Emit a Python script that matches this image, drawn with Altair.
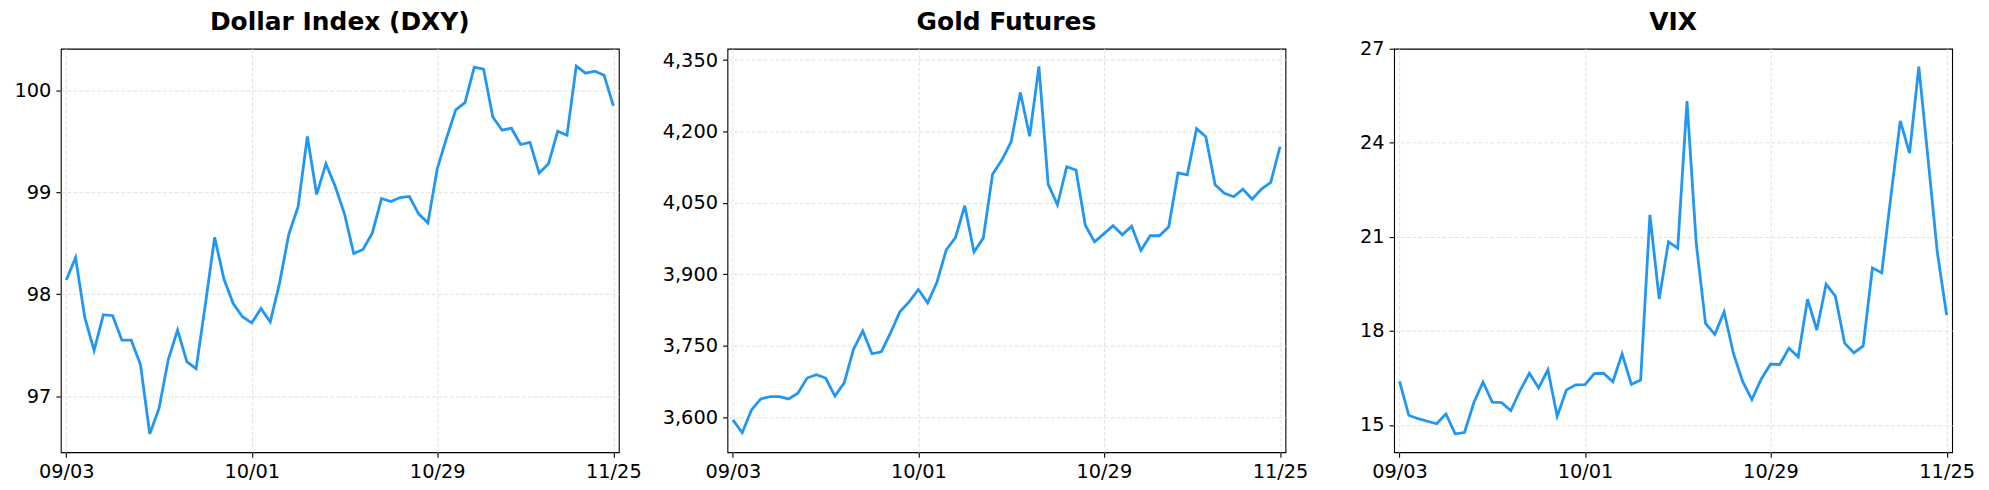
import altair as alt
import pandas as pd

# Trading-day index 0..59 (09/03 .. 11/25)
tick_positions = [0, 20, 40, 59]
tick_labels = ["09/03", "10/01", "10/29", "11/25"]

dxy = [98.14, 98.36, 97.77, 97.45, 97.80, 97.79, 97.55, 97.55, 97.31, 96.63,
       96.88, 97.36, 97.65, 97.34, 97.27, 97.90, 98.56, 98.15, 97.91, 97.78,
       97.72, 97.86, 97.73, 98.11, 98.59, 98.86, 99.55, 98.98, 99.28, 99.06,
       98.79, 98.40, 98.44, 98.60, 98.94, 98.91, 98.95, 98.96, 98.79, 98.70,
       99.23, 99.53, 99.81, 99.88, 100.23, 100.21, 99.74, 99.61, 99.63, 99.47,
       99.49, 99.19, 99.28, 99.60, 99.56, 100.24, 100.17, 100.19, 100.15, 99.85]

gold = [3594, 3567, 3615, 3638, 3643, 3643, 3638, 3650, 3682, 3689,
        3682, 3644, 3672, 3742, 3781, 3733, 3737, 3777, 3821, 3842,
        3868, 3840, 3883, 3951, 3977, 4044, 3947, 3976, 4110, 4140,
        4178, 4282, 4190, 4337, 4089, 4046, 4126, 4119, 4003, 3968,
        3985, 4002, 3983, 4001, 3950, 3981, 3981, 4000, 4113, 4109,
        4206, 4189, 4088, 4070, 4063, 4079, 4058, 4079, 4093, 4168]

vix = [16.39, 15.31, 15.20, 15.12, 15.04, 15.35, 14.72, 14.76, 15.70, 16.37,
       15.73, 15.71, 15.46, 16.10, 16.65, 16.18, 16.76, 15.28, 16.12, 16.28,
       16.29, 16.64, 16.65, 16.38, 17.27, 16.30, 16.43, 21.70, 19.02, 20.84,
       20.64, 25.33, 20.78, 18.24, 17.89, 18.61, 17.29, 16.39, 15.81, 16.46,
       16.94, 16.93, 17.45, 17.17, 19.01, 18.03, 19.49, 19.11, 17.61, 17.30,
       17.52, 20.01, 19.85, 22.32, 24.70, 23.67, 26.43, 23.48, 20.50, 18.51]

dxy_ticks = [97, 98, 99, 100]
gold_ticks = [3600, 3750, 3900, 4050, 4200, 4350]
vix_ticks = [15, 18, 21, 24, 27]

LINE_COLOR = "#2196F3"
FONT = "DejaVu Sans"
GRID = "#e2e2e2"

label_expr = " : ".join(
    f"datum.value == {p} ? '{l}'" for p, l in zip(tick_positions, tick_labels)
) + " : ''"


def panel(values, title, y_domain, y_ticks, y_format, title_offset):
    df = pd.DataFrame({"i": list(range(len(values))), "v": values})
    top = y_domain[1]
    return (
        alt.Chart(df, title=alt.Title(title, offset=title_offset))
        .mark_line(color=LINE_COLOR, strokeWidth=2.8)
        .encode(
            x=alt.X(
                "i:Q",
                scale=alt.Scale(domain=[-0.59, 59.59], nice=False, zero=False),
                axis=alt.Axis(values=tick_positions, labelExpr=label_expr, title=None),
            ),
            y=alt.Y(
                "v:Q",
                scale=alt.Scale(domain=y_domain, nice=False, zero=False),
                axis=alt.Axis(
                    values=y_ticks,
                    format=y_format,
                    title=None,
                    gridColor=alt.ConditionalAxisColor(
                        condition={"test": f"datum.value >= {top}", "value": "transparent"},
                        value=GRID,
                    ),
                ),
            ),
        )
        .properties(width=560, height=405)
    )


c1 = panel(dxy, "Dollar Index (DXY)", [96.45, 100.41], dxy_ticks, "d", 13.5)
c2 = panel(gold, "Gold Futures", [3526, 4374], gold_ticks, ",d", 13.5)
# the "27" label reaches above the plot, so the title sits on top of it
c3 = panel(vix, "VIX", [14.13, 27.0], vix_ticks, "d", 3.5)

chart = (
    alt.hconcat(c1, c2, c3, spacing=109, bounds="flush")
    .properties(padding={"left": 5, "top": 0, "right": 5, "bottom": 5}, background="white")
    .configure_view(stroke="black", strokeWidth=1.1)
    .configure_axis(
        domain=False,
        ticks=True,
        tickColor="black",
        tickSize=5,
        tickWidth=1.1,
        labelFont=FONT,
        labelFontSize=19.4,
        labelColor="black",
        labelPadding=5,
        grid=True,
        gridColor=GRID,
        gridDash=[4, 2],
        gridWidth=1,
        labelFlush=False,
        labelOverlap=False,
    )
    .configure_title(
        font=FONT,
        fontSize=25,
        fontWeight="bold",
        color="black",
        anchor="middle",
        baseline="alphabetic",
        frame="group",
    )
)

chart.save("out.html", embed_options={"renderer": "svg", "actions": False})
